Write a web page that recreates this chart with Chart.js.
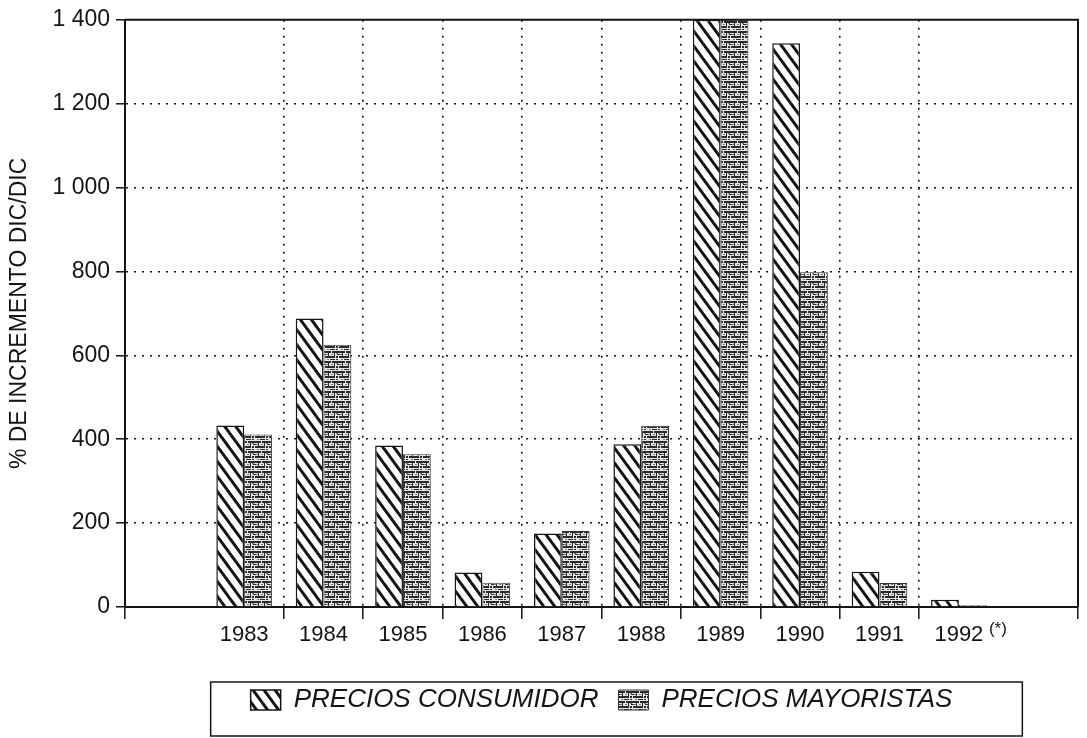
<!DOCTYPE html>
<html><head><meta charset="utf-8">
<script src="https://cdn.jsdelivr.net/npm/chart.js@4"></script>
<style>html,body{margin:0;padding:0;background:#fff;overflow:hidden}#wrap{width:1087px;height:738px;position:relative}</style>
</head><body><div id="wrap"><canvas id="c" width="1087" height="738"></canvas></div>
<script>
// ---- data ----
const categories = ['', '1983', '1984', '1985', '1986', '1987', '1988', '1989', '1990', '1991', '1992', ''];
const preciosConsumidor = [null, 433, 688, 385, 82, 175, 388, 1400, 1344, 84, 17, null];
const preciosMayoristas = [null, 411, 625, 364, 58, 181, 432, 1400, 798, 57, 5, null];
const seriesNames = ['PRECIOS CONSUMIDOR', 'PRECIOS MAYORISTAS'];
const yTickValues = [0, 200, 400, 600, 800, 1000, 1200, 1400];
const yTitle = '% DE INCREMENTO DIC/DIC';
const noteLabel = '(*)';
const noteCategoryIndex = 10;

const FONT = 'Liberation Sans, Arial, sans-serif';
const INK = '#141414';

function hatchPattern() {
  const w = 11, h = 15;
  const c = document.createElement('canvas'); c.width = w; c.height = h;
  const g = c.getContext('2d');
  g.fillStyle = '#fff'; g.fillRect(0, 0, w, h);
  g.strokeStyle = INK; g.lineWidth = 3;
  for (const dx of [-w, 0, w]) {
    g.beginPath(); g.moveTo(dx - w, -h); g.lineTo(dx + 2 * w, 2 * h); g.stroke();
  }
  return g.createPattern(c, 'repeat');
}
function brickPattern() {
  const w = 14, h = 10;
  const c = document.createElement('canvas'); c.width = w; c.height = h;
  const g = c.getContext('2d');
  g.fillStyle = '#e6e6e6'; g.fillRect(0, 0, w, h);
  g.fillStyle = '#2a2a2a';
  [[0,1,9,2],[10,1,4,2],[3,6,10,2],[0,6,2,2],[12,3,1,3],[6,3,1,3],[1,4,3,1],[8,9,5,1],[0,9,2,1]].forEach(r => g.fillRect(r[0], r[1], r[2], r[3]));
  g.fillStyle = '#777';
  [[4,4,2,1],[9,4,2,1],[0,3,2,1],[5,9,2,1]].forEach(r => g.fillRect(r[0], r[1], r[2], r[3]));
  return g.createPattern(c, 'repeat');
}

const shownGrid = i => i >= 2 && i <= 10;
const shownTick = i => i === undefined || i === 0 || (i >= 2 && i <= 10) || i === 12;

const extrasPlugin = {
  id: 'extras',
  afterDraw(chart) {
    const { ctx, chartArea: a } = chart;
    ctx.save();
    ctx.strokeStyle = INK; ctx.lineWidth = 2;
    ctx.beginPath(); ctx.moveTo(a.left, a.top); ctx.lineTo(a.right, a.top); ctx.lineTo(a.right, a.bottom); ctx.stroke();
    // note marker next to last year
    const xs = chart.scales.x;
    ctx.fillStyle = INK; ctx.font = '17px ' + FONT; ctx.textAlign = 'left'; ctx.textBaseline = 'middle';
    ctx.fillText(noteLabel, xs.getPixelForValue(noteCategoryIndex) + 30, a.bottom + 22);
    // legend frame
    const hb = chart.legend.legendHitBoxes;
    if (hb && hb.length) {
      const first = hb[0], last = hb[hb.length - 1];
      const cy = first.top + first.height / 2;
      const l = first.left - 40, r = last.left + last.width + 70;
      ctx.lineWidth = 1.5;
      ctx.strokeRect(l, cy - 18, r - l, 54);
    }
    ctx.restore();
  }
};

new Chart(document.getElementById('c'), {
  type: 'bar',
  data: {
    labels: categories,
    datasets: [
      { label: seriesNames[0], data: preciosConsumidor, backgroundColor: hatchPattern(), borderColor: INK, borderWidth: 1.5, order: 1 },
      { label: seriesNames[1], data: preciosMayoristas, backgroundColor: brickPattern(), borderColor: '#333', borderWidth: 1, order: 2 }
    ]
  },
  options: {
    responsive: false, animation: false, devicePixelRatio: 1,
    layout: { padding: { top: 15, right: 9, left: 0, bottom: 15 } },
    datasets: { bar: { categoryPercentage: 0.7, barPercentage: 1.0 } },
    plugins: {
      tooltip: { enabled: false },
      legend: {
        position: 'bottom', fullSize: false,
        labels: { boxWidth: 30, boxHeight: 20, padding: 20, color: INK,
          font: { family: FONT, size: 26, style: 'italic' } }
      }
    },
    scales: {
      x: {
        type: 'category', offset: true,
        afterFit: s => { s.height = 60; },
        grid: {
          offset: true, lineWidth: 1.6,
          color: c => shownGrid(c.index) ? INK : 'rgba(0,0,0,0)',
          tickColor: c => shownTick(c.index) ? INK : 'rgba(0,0,0,0)',
          tickLength: 12, tickWidth: 1.5
        },
        border: { display: true, color: INK, width: 2, dash: [2, 6] },
        ticks: { autoSkip: false, maxRotation: 0, padding: 3, color: INK, font: { family: FONT, size: 22 } }
      },
      y: {
        min: 0, max: 1400,
        afterFit: s => { s.width = 125; },
        afterBuildTicks: s => { s.ticks = yTickValues.map(v => ({ value: v })); },
        grid: {
          lineWidth: 1.6,
          color: c => (c.tick && c.tick.value > 0 && c.tick.value < 1400) ? INK : 'rgba(0,0,0,0)',
          tickColor: INK, tickLength: 9, tickWidth: 1.5
        },
        border: { display: true, color: INK, width: 2, dash: [2, 6] },
        ticks: { padding: 6, color: INK, font: { family: FONT, size: 23 },
          callback: v => v >= 1000 ? String(v).replace(/^(\d)(\d{3})$/, '$1 $2') : String(v) },
        title: { display: true, text: yTitle, color: INK, padding: { top: 6, bottom: 0 },
          font: { family: FONT, size: 23 } }
      }
    }
  },
  plugins: [extrasPlugin]
});
</script></body></html>
